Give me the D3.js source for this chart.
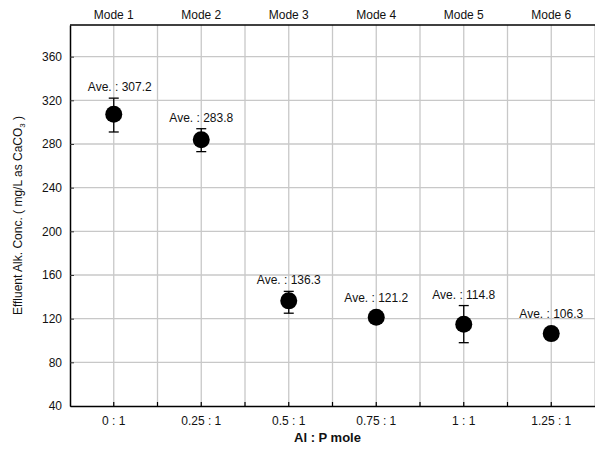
<!DOCTYPE html>
<html>
<head>
<meta charset="utf-8">
<script src="https://cdn.jsdelivr.net/npm/d3@7"></script>
<style>
  body { margin: 0; background: #fff; }
  text { font-family: Arial, "Liberation Sans", sans-serif; }
</style>
</head>
<body>
<svg id="chart"></svg>
<script>
const ratios = ["0 : 1", "0.25 : 1", "0.5 : 1", "0.75 : 1", "1 : 1", "1.25 : 1"];
const modes = ["Mode 1", "Mode 2", "Mode 3", "Mode 4", "Mode 5", "Mode 6"];
const averages = [307.2, 283.8, 136.3, 121.2, 114.8, 106.3];
const errLow = [291, 273, 125, 121.2, 98, 106.3];
const errHigh = [322, 294, 145, 121.2, 132, 106.3];
const yTicks = [40, 80, 120, 160, 200, 240, 280, 320, 360];

const width = 595, height = 450;
const margin = {top: 25, right: 0, bottom: 44, left: 70};
const w = width - margin.left - margin.right;
const h = height - margin.top - margin.bottom;

const svg = d3.select("#chart").attr("width", width).attr("height", height);
const g = svg.append("g").attr("transform", `translate(${margin.left},${margin.top})`);

const x = d3.scaleBand().domain(ratios).range([0, w]);
const y = d3.scaleLinear().domain([40, 389]).range([h, 0]);

// gridlines: at band centers and band edges
const vLines = [];
ratios.forEach(r => {
    vLines.push(x(r));
    vLines.push(x(r) + x.bandwidth() / 2);
});
vLines.push(w);
g.append("g").selectAll("line")
    .data(vLines.filter(v => v > 0))
    .join("line")
    .attr("x1", d => d).attr("x2", d => d)
    .attr("y1", 0).attr("y2", h)
    .attr("stroke", "#c8c8c8").attr("stroke-width", 1.3);

g.append("g").selectAll("line")
    .data(yTicks.slice(1))
    .join("line")
    .attr("x1", 0).attr("x2", w)
    .attr("y1", d => y(d)).attr("y2", d => y(d))
    .attr("stroke", "#c8c8c8").attr("stroke-width", 1.3);

// y axis
const yAxis = g.append("g")
    .call(d3.axisLeft(y).tickValues(yTicks).tickSizeInner(-4).tickSizeOuter(0).tickPadding(8));
yAxis.select(".domain").attr("stroke", "#000").attr("stroke-width", 1.5);
yAxis.selectAll(".tick line").attr("stroke", "#333");
yAxis.selectAll("text").attr("font-size", 12).attr("fill", "#111");

// bottom axis
const xAxis = g.append("g")
    .attr("transform", `translate(0,${h})`)
    .call(d3.axisBottom(x).tickSize(0).tickSizeOuter(0).tickPadding(10));
xAxis.select(".domain").attr("stroke", "#000").attr("stroke-width", 1.5);
xAxis.selectAll("text").attr("font-size", 12).attr("fill", "#111");
g.append("g").selectAll("line")
    .data(vLines.filter(v => v > 0 && v < w))
    .join("line")
    .attr("x1", d => d).attr("x2", d => d)
    .attr("y1", h).attr("y2", h - 4)
    .attr("stroke", "#000").attr("stroke-width", 1.2);

// top axis with mode labels
g.append("line")
    .attr("x1", 0).attr("x2", w).attr("y1", 0).attr("y2", 0)
    .attr("stroke", "#000").attr("stroke-width", 1.5);
g.append("g").selectAll("text")
    .data(modes)
    .join("text")
    .attr("x", (d, i) => x(ratios[i]) + x.bandwidth() / 2)
    .attr("y", -6)
    .attr("text-anchor", "middle")
    .attr("font-size", 12)
    .attr("fill", "#111")
    .text(d => d);

// error bars
const cap = 5;
const eb = g.append("g").selectAll("g")
    .data(averages.map((v, i) => ({r: ratios[i], v, lo: errLow[i], hi: errHigh[i]})))
    .join("g")
    .attr("transform", d => `translate(${x(d.r) + x.bandwidth() / 2},0)`);
eb.filter(d => d.hi > d.lo).each(function(d) {
    const s = d3.select(this);
    s.append("line").attr("x1", 0).attr("x2", 0).attr("y1", y(d.lo)).attr("y2", y(d.hi))
        .attr("stroke", "#000").attr("stroke-width", 1.3);
    s.append("line").attr("x1", -cap).attr("x2", cap).attr("y1", y(d.lo)).attr("y2", y(d.lo))
        .attr("stroke", "#000").attr("stroke-width", 1.3);
    s.append("line").attr("x1", -cap).attr("x2", cap).attr("y1", y(d.hi)).attr("y2", y(d.hi))
        .attr("stroke", "#000").attr("stroke-width", 1.3);
});
eb.append("circle")
    .attr("cy", d => y(d.v))
    .attr("r", 8.5)
    .attr("fill", "#000");
eb.append("text")
    .attr("x", (d, i) => i === 0 ? 6 : 0)
    .attr("y", d => Math.min(y(d.hi), y(d.v) - 8.5) - 7)
    .attr("text-anchor", "middle")
    .attr("font-size", 12)
    .attr("fill", "#111")
    .text(d => `Ave. : ${d.v.toFixed(1)}`);

// axis titles
svg.append("text")
    .attr("x", margin.left + w / 2 - 5)
    .attr("y", 442)
    .attr("text-anchor", "middle")
    .attr("font-size", 13)
    .attr("font-weight", "bold")
    .attr("fill", "#111")
    .text("Al : P mole");

const yl = svg.append("text")
    .attr("transform", `translate(22,${margin.top + h / 2}) rotate(-90)`)
    .attr("text-anchor", "middle")
    .attr("font-size", 12)
    .attr("fill", "#111");
yl.append("tspan").text("Effluent Alk. Conc. ( mg/L as CaCO");
yl.append("tspan").attr("font-size", 8).attr("dy", 3).text("3");
yl.append("tspan").attr("dy", -3).text(" )");
</script>
</body>
</html>
